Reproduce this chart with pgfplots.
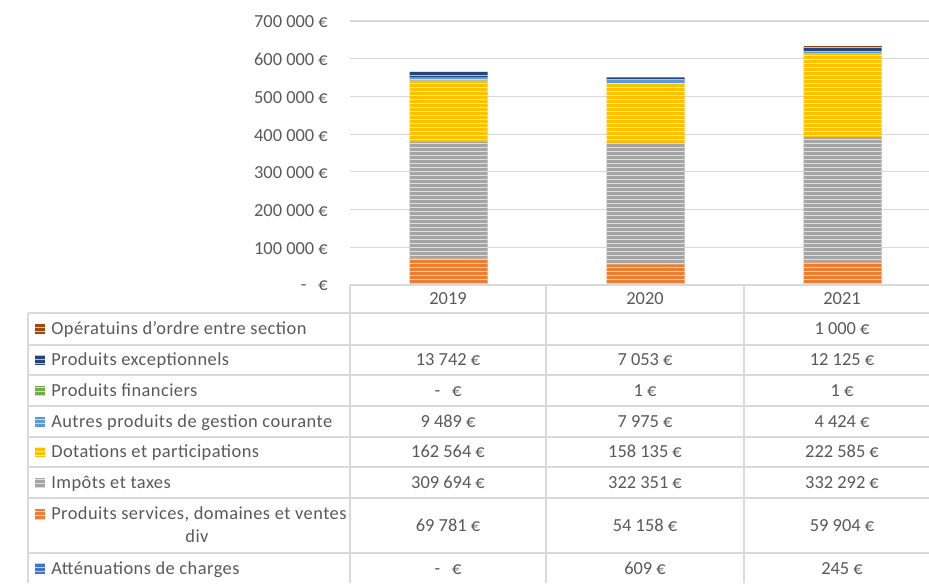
\documentclass[border=0pt]{standalone}
\usepackage{fontspec}
\setmainfont{Carlito}
\newfontfamily\labfont[LetterSpace=2.5]{Carlito}
\usepackage{pgfplots}
\pgfplotsset{compat=1.18}
\usepackage{pgfplotstable}
\usetikzlibrary{patterns.meta}

\definecolor{cOrange}{HTML}{ED7D31}
\definecolor{cGray}{HTML}{A5A5A5}
\definecolor{cYellow}{HTML}{FFC000}
\definecolor{cLBlue}{HTML}{5B9BD5}
\definecolor{cGreen}{HTML}{70AD47}
\definecolor{cDBlue}{HTML}{264478}
\definecolor{cBrown}{HTML}{9E480E}
\definecolor{cBlue}{HTML}{4472C4}
\definecolor{txt}{HTML}{595959}
\definecolor{gridc}{HTML}{D9D9D9}

\pgfplotstableread{
x aten serv imp dot autres fin exc ord
0 0 69781 309694 162564 9489 0 13742 0
1 609 54158 322351 158135 7975 1 7053 0
2 245 59904 332292 222585 4424 1 12125 1000
}\data

\tikzset{stripe/.style={fill=#1, draw=none,
  postaction={pattern={Lines[angle=0,distance=3pt,line width=0.6pt]}, pattern color=#1!35!white}}}

\newcommand{\tf}{\fontsize{13.8pt}{16pt}\selectfont}

\begin{document}
\begin{tikzpicture}[font=\tf, text=txt]
\begin{axis}[
  at={(262.5pt,-213.75pt)}, anchor=south west,
  scale only axis, width=443.25pt, height=198pt,
  xmin=-0.5, xmax=2.5, ymin=0, ymax=700000,
  ybar stacked, bar width=58.5pt,
  axis line style={draw=none},
  tick style={draw=none},
  xtick=\empty,
  ytick={0,100000,200000,300000,400000,500000,600000,700000},
  yticklabels={{-\hspace{9pt}€},{100 000 €},{200 000 €},{300 000 €},{400 000 €},{500 000 €},{600 000 €},{700 000 €}},
  scaled y ticks=false,
  ymajorgrids, major grid style={draw=gridc, line width=0.9pt},
  yticklabel style={anchor=east, font=\tf, text=txt, inner sep=0pt, xshift=-16.5pt, yshift=-0.8pt},
  clip=false,
]
\addplot[stripe=cBlue] table[x=x,y=aten]{\data};
\addplot[stripe=cOrange] table[x=x,y=serv]{\data};
\addplot[stripe=cGray] table[x=x,y=imp]{\data};
\addplot[stripe=cYellow] table[x=x,y=dot]{\data};
\addplot[stripe=cLBlue] table[x=x,y=autres]{\data};
\addplot[stripe=cGreen] table[x=x,y=fin]{\data};
\addplot[stripe=cDBlue] table[x=x,y=exc]{\data};
\addplot[stripe=cBrown] table[x=x,y=ord]{\data};
\end{axis}

\begin{scope}[x=0.75pt,y=-0.75pt]
\draw[gridc, line width=1pt] (350,285) -- (941,285);
\foreach \yy in {313,345,375,406,437,467,498,553}
  \draw[gridc, line width=1pt] (28,\yy) -- (941,\yy);
\draw[gridc, line width=1pt] (28,313) -- (28,583);
\foreach \xx in {350,546,744,941}
  \draw[gridc, line width=1pt] (\xx,285) -- (\xx,583);

\tikzset{cell/.style={inner sep=0pt, text height=1.5ex, text depth=0.3ex, yshift=-1.6pt}}
\node[cell] at (448,299) {2019};
\node[cell] at (645,299) {2020};
\node[cell] at (842,299) {2021};

\foreach \yy/\lab/\col/\va/\vb/\vc in {
  329/{Opératuins d’ordre entre section}/cBrown/{}/{}/{1 000 €},
  360/{Produits exceptionnels}/cDBlue/{13 742 €}/{7 053 €}/{12 125 €},
  390.5/{Produits financiers}/cGreen/{-\hspace{9pt}€}/{1 €}/{1 €},
  421.5/{Autres produits de gestion courante}/cLBlue/{9 489 €}/{7 975 €}/{4 424 €},
  452/{Dotations et participations}/cYellow/{162 564 €}/{158 135 €}/{222 585 €},
  482.5/{Impôts et taxes}/cGray/{309 694 €}/{322 351 €}/{332 292 €},
  568.5/{Atténuations de charges}/cBlue/{-\hspace{9pt}€}/{609 €}/{245 €}} {
  \fill[stripe=\col] (35,\yy-5) rectangle (45,\yy+5);
  \node[cell, anchor=west, font=\labfont\tf] at (51,\yy) {\lab};
  \node[cell] at (448,\yy) {\va};
  \node[cell] at (645,\yy) {\vb};
  \node[cell] at (842,\yy) {\vc};
}
% two-line row
\fill[stripe=cOrange] (35,509) rectangle (45,519);
\node[cell, anchor=west, font=\labfont\tf] at (51,514) {Produits services, domaines et ventes};
\node[cell, font=\labfont\tf] at (197,537) {div};
\node[cell] at (448,525.5) {69 781 €};
\node[cell] at (645,525.5) {54 158 €};
\node[cell] at (842,525.5) {59 904 €};
\end{scope}

\pgfresetboundingbox
\useasboundingbox (0pt,0pt) rectangle (696.75pt,-437.25pt);
\end{tikzpicture}
\end{document}
